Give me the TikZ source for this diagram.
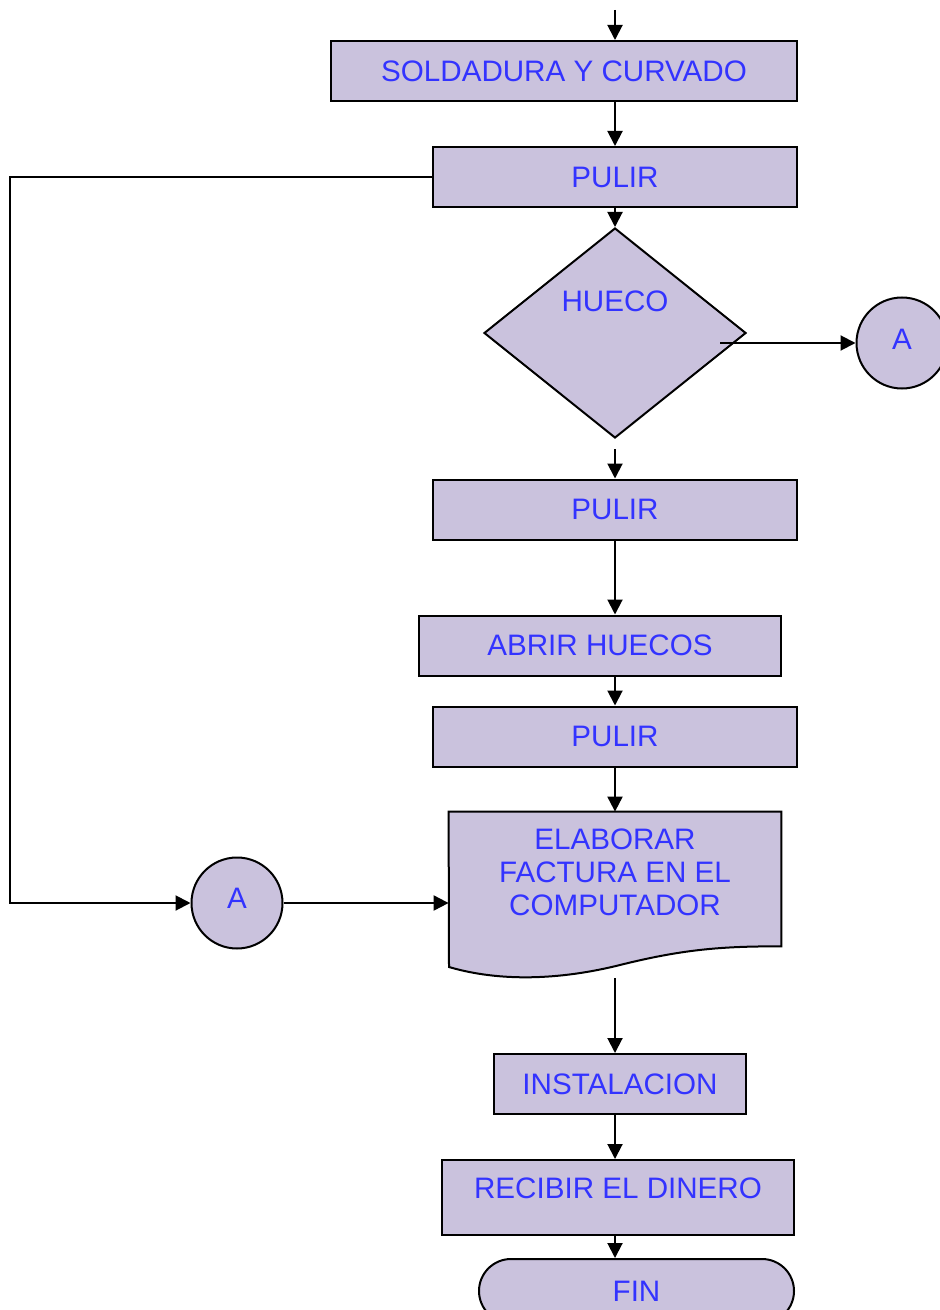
\documentclass[tikz,border=0pt]{standalone}
\usepackage{fontspec}
\setmainfont{Liberation Sans}
\usetikzlibrary{arrows.meta,shapes.geometric}
\definecolor{boxfill}{RGB}{202,194,221}
\definecolor{boxtext}{RGB}{51,51,255}
\begin{document}
\begin{tikzpicture}[x=0.5pt,y=-0.5pt,
  every node/.style={font=\fontsize{14.8}{16.5}\selectfont,text=boxtext},
  procbox/.style={draw=black,line width=1pt,fill=boxfill,inner sep=0pt,
    minimum height=30pt},
  joint/.style={circle,draw=black,line width=1pt,fill=boxfill,inner sep=0pt,
    minimum size=45.5pt},
  arr/.style={line width=1pt,-{Triangle[length=7.5pt,width=7.5pt]}},
  plain/.style={line width=1pt}]
\clip (0,0) rectangle (940,1310);

% process steps
\node[procbox,minimum width=233pt] (s1) at (564,71) {SOLDADURA Y CURVADO};
\node[procbox,minimum width=182pt] (p2) at (615,177) {PULIR};
\node[diamond,draw=black,line width=1pt,fill=boxfill,inner sep=0pt,
  minimum width=131pt,minimum height=105pt] (dia) at (615,333) {};
\node (diat) at (615,301) {HUECO};
\node[joint] (cA1) at (902,343) {};
\node (cA1t) at (902,339) {A};
\node[procbox,minimum width=182pt] (p3) at (615,509.5) {PULIR};
\node[procbox,minimum width=181pt] (a4) at (600,645.5) {ABRIR HUECOS};
\node[procbox,minimum width=182pt] (p5) at (615,736.5) {PULIR};

% document shape
\node[minimum width=166pt,minimum height=67pt,inner sep=0pt] (doc) at (615,879) {};
\draw[plain,fill=boxfill] (doc.north west) -- (doc.north east) -- (doc.south east)
  .. controls (720,946) and (680,950) .. (620,965)
  .. controls (560,980) and (500,982) .. (449,967) -- cycle;
\node[align=center] (doct) at (615,872) {ELABORAR\\FACTURA EN EL\\COMPUTADOR};
\coordinate (docout) at (615,978);

\node[joint] (cA2) at (237,903) {};
\node (cA2t) at (237,898) {A};
\node[procbox,minimum width=126pt] (ins) at (620,1084) {INSTALACION};
\node[procbox,minimum width=176pt,minimum height=37.5pt] (rec) at (618,1197.5) {};
\node (rect) at (618,1188) {RECIBIR EL DINERO};
\node[procbox,minimum width=157.5pt,minimum height=32pt,rounded corners=16pt]
  (fin) at (636.5,1291) {FIN};

% connectors
\coordinate (entry) at (615,10);
\coordinate (loopL) at (10,177);
\coordinate (dout) at (720,343);
\draw[arr] (entry) -- (entry |- s1.north);
\draw[arr] (p2.north |- s1.south) -- (p2.north);
\draw[arr] (p2.south) -- (dia.north);
\draw[arr] (dout) -- (cA1.west);
\draw[arr] ([yshift=-5pt]dia.south) -- (p3.north);
\draw[arr] (p3.south) -- (p3.south |- a4.north);
\draw[arr] (p5.north |- a4.south) -- (p5.north);
\draw[arr] (p5.south) -- (p5.south |- doc.north);
\draw[arr] (p2.west) -- (loopL) |- (cA2.west);
\draw[arr] (cA2.east) -- (doc.west |- cA2.east);
\draw[arr] (docout) -- (docout |- ins.north);
\draw[arr] (docout |- ins.south) -- (docout |- rec.north);
\draw[arr] (docout |- rec.south) -- (docout |- fin.north);
\end{tikzpicture}
\end{document}
